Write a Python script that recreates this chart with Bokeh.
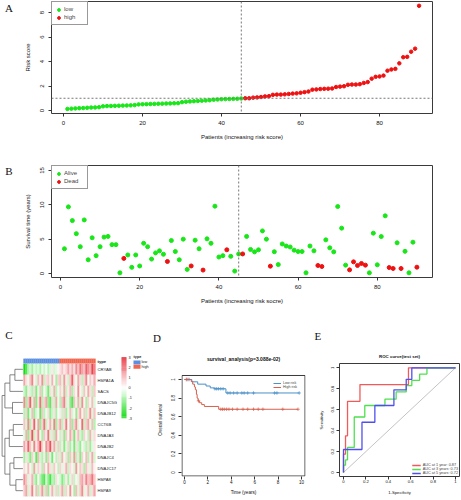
import numpy as np
from bokeh.plotting import figure
from bokeh.layouts import column, row
from bokeh.models import (Range1d, FixedTicker, Span, Legend, LegendItem, Title,
                          ColumnDataSource, LinearColorMapper)
from bokeh.transform import transform
from bokeh.embed import file_html
from bokeh.resources import INLINE
from bokeh.core.properties import value

SANS = "Liberation Sans"
SERIF = "Liberation Serif"

# ---------------- data: panel A (risk score) ----------------
risk_low = [0.13, 0.15, 0.17, 0.19, 0.20, 0.22, 0.24, 0.25, 0.27, 0.34, 0.36, 0.37, 0.38, 0.39, 0.40,
            0.41, 0.42, 0.44, 0.50, 0.51, 0.52, 0.53, 0.54, 0.55, 0.56, 0.57, 0.58, 0.59, 0.60, 0.68,
            0.72, 0.74, 0.76, 0.78, 0.80, 0.82, 0.84, 0.88, 0.90, 0.92, 0.93, 0.94, 0.95, 0.96, 0.98]
risk_high = [1.00, 1.00, 1.05, 1.07, 1.10, 1.15, 1.17, 1.28, 1.30, 1.30, 1.32, 1.35, 1.38, 1.40, 1.45,
             1.50, 1.55, 1.70, 1.72, 1.75, 1.77, 1.78, 1.80, 1.92, 1.95, 1.98, 2.10, 2.12, 2.12, 2.15,
             2.25, 2.32, 2.60, 2.75, 2.78, 2.85, 3.25, 3.35, 3.40, 3.85, 4.35, 4.38, 4.80, 5.05, 8.55]
risk_cutoff = 1.0
n_low = len(risk_low)

# ---------------- data: panel B (survival time / status) ----------------
surv_time = [3.6, 9.7, 7.7, 5.8, 3.9, 7.8, 2.0, 5.2, 2.6, 3.9,
             5.3, 5.4, 4.2, 4.2, 0.1, 2.2, 2.7, 0.9, 2.7, 1.1,
             4.4, 3.9, 2.1, 3.0, 3.3, 2.8, 1.75, 4.8, 3.2, 2.0,
             5.0, 0.6, 1.1, 4.85, 3.6, 0.5, 5.05, 4.4, 9.8, 2.4,
             2.6, 3.45, 2.5, 0.35, 2.85, 2.85, 5.4, 3.5, 3.15, 3.45,
             6.2, 5.0, 1.07, 3.17, 1.3, 4.3, 4.0, 3.86, 3.4, 3.2,
             3.2, 0.1, 4.0, 3.3, 1.17, 1.02, 4.9, 3.74, 3.15, 9.75,
             6.6, 1.22, 0.53, 1.7, 1.17, 1.46, 1.22, 0.1, 5.87, 1.27,
             5.38, 8.4, 0.87, 0.73, 4.47, 0.73, 3.23, 0.1, 4.56, 0.92]
dead_patients = [16, 27, 33, 36, 42, 46, 53, 65, 66, 73, 74, 75, 76, 77, 83, 84, 86, 90]

# ---------------- data: panel C (heatmap) ----------------
genes = ["CRYAB", "HSPA1A", "SACS", "DNAJC5G", "DNAJB12", "CCT6B",
         "DNAJA3", "DNAJB2", "DNAJC4", "DNAJC17", "HSPA8", "HSPA9"]
n_type_low = 18
n_type_high = 18
expr_CRYAB = [-3.0, -2.2, -1.0, -0.6, -1.2, -0.4, -0.8, -0.5, -1.0, -0.3, -0.7, -0.2, -0.9, -0.5, 0.3, -0.6, -0.4, 0.2,
              0.4, 0.8, 0.3, 0.6, 1.2, 0.5, 1.0, 0.4, 1.5, 0.8, 1.8, 1.2, 0.9, 2.0, 1.4, 1.0, 2.4, 1.6]
expr_HSPA1A = [1.2, 0.4, -0.3, 0.8, 1.6, 0.2, -0.6, 0.9, 0.3, 1.4, -0.8, 0.5, 0.7, -0.4, 1.0, 0.2, -1.2, 0.6,
               0.9, -0.5, 1.3, 0.3, -0.7, 0.8, 2.0, 0.4, -0.3, 1.1, 0.5, -0.9, 0.6, 1.5, -0.2, 0.7, 0.3, 1.0]
expr_SACS = [-0.8, -1.4, 0.3, -0.6, -1.0, 0.5, -1.6, -0.4, 0.8, -1.2, 0.2, -0.7, -1.8, 0.4, -0.5, 1.0, -0.9, -0.3,
             0.6, -0.4, 1.2, -0.8, 0.3, 0.9, -1.1, 0.5, -0.2, 1.4, 0.2, -0.6, 0.8, -0.3, 1.1, 0.4, -0.9, 0.7]
expr_DNAJC5G = [1.5, -1.2, 0.8, 2.0, -0.5, 1.0, -1.6, 0.4, 1.8, -0.9, 0.6, 1.2, -1.4, -2.0, 0.5, -0.8, 1.1, -0.3,
                -1.0, 0.9, 1.6, -0.6, 0.3, -1.5, -2.2, 0.8, -0.4, 1.0, -0.7, 1.4, 0.2, -1.1, 0.6, -0.3, 0.9, -0.5]
expr_DNAJB12 = [-1.0, 0.6, -1.8, -0.4, 0.9, -1.3, -0.6, 0.2, -2.0, 0.7, -0.9, -0.3, 0.5, -1.5, -0.7, 0.4, -1.1, -0.2,
                0.3, -0.8, 0.6, -1.2, -0.4, 0.9, -0.6, 0.2, -1.4, 0.5, 1.2, -0.3, 0.7, -0.9, 0.4, 1.5, -0.5, 0.8]
expr_CCT6B = [0.8, -0.6, 1.5, -1.0, 0.4, 2.0, -0.3, 1.2, -1.4, 0.6, 1.8, -0.8, 0.3, 1.0, -0.5, 1.6, -1.2, 0.5,
              1.1, -0.9, 0.4, 1.7, -0.2, 0.9, -1.3, 0.6, 1.4, -0.5, 0.2, 1.9, -0.8, 0.7, 1.2, -0.4, 0.9, -1.0]
expr_DNAJA3 = [-0.5, 1.0, -1.4, 0.6, 2.2, -0.8, 0.4, 1.5, -0.3, -1.2, 0.8, 0.3, 1.8, -0.6, 0.5, -1.0, 1.2, 0.2,
               -0.8, 0.4, -1.5, 0.7, -0.3, 1.1, 0.5, -1.8, 0.3, 0.9, -0.6, -1.2, 0.6, 0.2, -0.9, 1.0, -0.4, 0.5]
expr_DNAJB2 = [1.2, 0.5, 2.0, 0.8, -0.4, 1.6, 0.3, 1.0, 2.4, 0.6, -0.3, 1.4, 0.9, 2.2, 0.4, 1.1, -0.6, 0.7,
               -0.9, 0.3, -1.6, -0.5, 0.6, -1.2, -0.3, -1.8, 0.4, -0.8, -1.4, 0.2, -0.6, -1.0, 0.5, -1.3, -0.4, 0.3]
expr_DNAJC4 = [-1.2, 0.4, -0.8, -1.6, 0.6, -0.4, -2.0, 0.9, -0.6, -1.0, 0.3, -1.4, 0.7, -0.5, -1.8, 0.2, -0.9, 0.5,
               -0.7, 1.0, -0.3, 0.5, -1.2, 0.8, -0.5, 1.3, -0.9, 0.4, -1.6, 0.6, -0.2, 0.9, -1.0, 0.3, 1.1, -0.6]
expr_DNAJC17 = [0.5, -0.3, 0.9, 0.2, -0.7, 1.2, -0.4, 0.6, 0.3, -1.0, 0.8, -0.2, 1.1, 0.4, -0.6, 0.7, 0.2, -0.9,
                0.6, -0.4, 0.3, 1.0, -0.8, 0.5, 0.2, -0.6, 1.3, -0.3, 0.7, 0.4, -1.1, 0.8, 0.3, -0.5, 0.9, 0.2]
expr_HSPA8 = [1.4, 0.8, -0.5, 0.3, 1.0, -0.8, -1.4, 0.2, -1.0, -1.8, -2.2, -0.6, -1.5, -2.4, -0.9, -1.2, 0.4, -0.3,
              -0.6, -1.6, -0.9, 0.3, -1.2, -0.4, 0.6, -0.8, 0.2, -0.5, 0.9, 1.2, 0.5, 1.6, 0.8, 1.0, 1.8, 0.7]
expr_HSPA9 = [0.7, 1.2, -0.6, 0.4, 1.6, -0.3, 0.9, -1.0, 0.5, 1.3, -0.7, 0.8, -1.4, 0.3, 1.0, -0.5, 0.6, -0.9,
              0.4, 1.1, -0.8, 0.6, -0.3, 1.4, 0.2, -1.2, 0.9, -0.5, 0.7, 1.5, -0.4, 0.3, 1.0, -0.7, 0.5, 1.2]
# row dendrogram: (child a, child b, merge height); leaves 0..11, new nodes 12..22
dendro_merges = [(0, 1, 4.0), (12, 2, 6.5), (3, 4, 5.2), (13, 14, 9.0), (5, 6, 4.8), (16, 7, 6.8),
                 (8, 9, 4.5), (10, 11, 3.5), (18, 19, 6.5), (17, 20, 9.0), (15, 21, 10.4)]
colorbar_ticks = [3, 2, 1, 0, -1, -2, -3]

# ---------------- data: panel D (Kaplan-Meier) ----------------
km_pvalue = 3.088e-02
km_low_time = [0, 0.62, 1.13, 1.84, 2.2, 2.55, 3.54, 9.8]
km_low_surv = [1.0, 0.975, 0.95, 0.93, 0.91, 0.90, 0.855, 0.855]
km_high_time = [0, 0.57, 0.7, 0.85, 0.93, 1.02, 1.08, 1.16, 1.27, 1.47, 1.7, 2.92, 9.7]
km_high_surv = [1.0, 0.98, 0.95, 0.92, 0.89, 0.84, 0.80, 0.77, 0.75, 0.73, 0.71, 0.68, 0.68]
km_low_censor = [0.2, 0.4, 2.6, 2.75, 2.9, 3.1, 3.3, 3.7, 3.9, 4.2, 4.5, 4.9, 5.1, 5.4, 5.9, 7.7, 7.9, 9.8]
km_high_censor = [0.15, 0.3, 1.2, 3.1, 3.25, 3.4, 3.6, 3.8, 4.1, 4.5, 5.0, 5.4, 5.9, 6.3, 6.7, 8.4, 9.7]

# ---------------- data: panel E (ROC) ----------------
roc_years = [1, 3, 5]
roc_auc = [0.87, 0.73, 0.72]
roc1_fpr = [0, 0.018, 0.036, 0.147, 0.58]
roc1_tpr = [0.175, 0.35, 0.68, 0.84, 1.0]
roc3_fpr = [0, 0.018, 0.036, 0.096, 0.19, 0.37, 0.47, 0.56, 0.61, 0.68, 0.745]
roc3_tpr = [0.07, 0.12, 0.24, 0.53, 0.64, 0.70, 0.77, 0.83, 0.88, 0.94, 1.0]
roc5_fpr = [0, 0.165, 0.28, 0.45, 0.56, 0.61]
roc5_tpr = [0.22, 0.48, 0.64, 0.79, 0.89, 1.0]

# ---------------- styling helpers ----------------
GREEN = "#19E619"
RED = "#EE1111"


def base_fig(fw, fh, bl, br, bt, bb, xr, yr):
    p = figure(frame_width=fw, frame_height=fh, min_border_left=bl, min_border_right=br,
               min_border_top=bt, min_border_bottom=bb, x_range=Range1d(*xr), y_range=Range1d(*yr),
               output_backend="svg", toolbar_location=None, title=None)
    p.xgrid.visible = False
    p.ygrid.visible = False
    p.outline_line_color = "#3a3a3a"
    p.outline_line_width = 1
    p.background_fill_color = "white"
    p.border_fill_color = "white"
    return p


def style_axes(p, fs, xt, yt, xlab, ylab, tick_sd, xl_sd, yl_sd, xtick_sd=None):
    p.xaxis.ticker = FixedTicker(ticks=xt)
    p.yaxis.ticker = FixedTicker(ticks=yt)
    p.xaxis.axis_label = xlab
    p.yaxis.axis_label = ylab
    for ax in p.axis:
        ax.axis_line_color = None
        ax.major_tick_out = 3
        ax.major_tick_in = 0
        ax.minor_tick_line_color = None
        ax.major_tick_line_color = "#333333"
        ax.major_label_text_font = SANS
        ax.major_label_text_font_size = fs
        ax.major_label_text_color = "#111111"
        ax.axis_label_text_font = SANS
        ax.axis_label_text_font_size = fs
        ax.axis_label_text_font_style = "normal"
        ax.axis_label_text_color = "#111111"
        ax.major_label_standoff = tick_sd
    if xtick_sd is not None:
        p.xaxis.major_label_standoff = xtick_sd
    p.xaxis.axis_label_standoff = xl_sd
    p.yaxis.axis_label_standoff = yl_sd
    p.yaxis.major_label_orientation = "vertical"


def letter_strip(text, fh, bt, bb, text_y):
    # narrow axis-less strip beside a panel; its frame is aligned with the panel's frame
    q = figure(frame_width=17, frame_height=fh, min_border_left=0, min_border_right=0,
               min_border_top=bt, min_border_bottom=bb, x_range=Range1d(0, 17), y_range=Range1d(fh, 0),
               x_axis_type=None, y_axis_type=None, output_backend="svg", toolbar_location=None, title=None)
    q.grid.visible = False
    q.outline_line_color = None
    q.text([8.5], [text_y], text=[text], text_font=value(SERIF), text_font_size="11px",
           text_font_style="normal", text_align="center", text_baseline="middle", text_color="#111111")
    return q


def small_legend(p, items, loc, fs, gw, gh, lh, pad, border=None, margin=0):
    lg = Legend(items=items, location=loc, label_text_font=SANS, label_text_font_size=fs,
                glyph_width=gw, glyph_height=gh, label_height=lh, spacing=0, padding=pad,
                margin=margin, label_standoff=2, background_fill_color="white",
                background_fill_alpha=1.0 if border else 0.0,
                border_line_color=border, border_line_width=1)
    p.add_layout(lg)
    return lg


# ---------------- Panel A (page y 0..150, frame x 51..432, y 1..113) ----------------
A_xr = (-3.04, 93.4)
A_yr = (-0.245, 8.9)
pA = base_fig(381, 112, 34, 29, 1, 37, A_xr, A_yr)
style_axes(pA, "6px", [0, 20, 40, 60, 80], [0, 2, 4, 6, 8],
           "Patients (increasing risk score)", "Risk score", 4, 6, 7)
xa_low = list(range(1, n_low + 1))
xa_high = list(range(n_low + 1, n_low + len(risk_high) + 1))
rA_low = pA.scatter(xa_low, risk_low, size=3.5, color=GREEN)
rA_high = pA.scatter(xa_high, risk_high, size=3.5, color=RED)
pA.add_layout(Span(location=n_low, dimension="height", line_color="#777777", line_dash="2 2", line_width=1))
pA.add_layout(Span(location=risk_cutoff, dimension="width", line_color="#777777", line_dash="2 2", line_width=1))
small_legend(pA, [LegendItem(label="low", renderers=[rA_low]), LegendItem(label="high", renderers=[rA_high])],
             "top_left", "6px", 7, 7, 8, 3, border="#333333")
sA = letter_strip("A", 112, 1, 37, 6.5)

# ---------------- Panel B (page y 150..310, frame x 51..432, y 165..277) ----------------
B_xr = (-2.27, 93.94)
B_yr = (-0.58, 15.72)
pB = base_fig(381, 112, 34, 29, 15, 33, B_xr, B_yr)
style_axes(pB, "6px", [0, 20, 40, 60, 80], [0, 5, 10, 15],
           "Patients (increasing risk socre)", "Survival time (years)", 4, 6, 7)
patients = np.arange(1, len(surv_time) + 1)
is_dead = np.isin(patients, dead_patients)
st = np.array(surv_time)
rB_alive = pB.scatter(patients[~is_dead], st[~is_dead], size=4, color=GREEN)
rB_dead = pB.scatter(patients[is_dead], st[is_dead], size=4, color=RED)
pB.add_layout(Span(location=n_low, dimension="height", line_color="#777777", line_dash="2 2", line_width=1))
small_legend(pB, [LegendItem(label="Alive", renderers=[rB_alive]), LegendItem(label="Dead", renderers=[rB_dead])],
             "top_left", "6px", 7, 7, 8, 3, border="#333333")
sB = letter_strip("B", 112, 15, 33, 5.5)

# ---------------- Panel C (heatmap; page x 0..150, y 310..500) ----------------
expr_rows = [expr_CRYAB, expr_HSPA1A, expr_SACS, expr_DNAJC5G, expr_DNAJB12, expr_CCT6B,
             expr_DNAJA3, expr_DNAJB2, expr_DNAJC4, expr_DNAJC17, expr_HSPA8, expr_HSPA9]
n_cols = n_type_low + n_type_high
# x: one unit per sample column (2px), y: one unit per gene row (~11px), rows grow downward
pC = figure(frame_width=150, frame_height=190, min_border=0,
            x_range=Range1d(-11.5, 63.5), y_range=Range1d(12.39, -4.83),
            x_axis_type=None, y_axis_type=None, output_backend="svg",
            toolbar_location=None, title=None)
pC.grid.visible = False
pC.outline_line_color = None
pC.background_fill_color = "white"


def lerp_hex(c1, c2, t):
    return "#%02x%02x%02x" % tuple(int(round(a + (b - a) * t)) for a, b in zip(c1, c2))


c_green, c_white, c_red = (25, 220, 25), (255, 255, 255), (228, 24, 34)
palette = [lerp_hex(c_green, c_white, i / 50) for i in range(50)] + \
          [lerp_hex(c_white, c_red, i / 50) for i in range(51)]
mapper = LinearColorMapper(palette=palette, low=-3, high=3)

hx, hy, hv = [], [], []
for gi, vals in enumerate(expr_rows):
    for ci, v in enumerate(vals):
        hx.append(ci + 0.5)
        hy.append(gi + 0.5)
        hv.append(v)
hsrc = ColumnDataSource(dict(x=hx, y=hy, v=hv))
pC.rect("x", "y", width=1, height=1, source=hsrc, fill_color=transform("v", mapper),
        line_color=transform("v", mapper), line_width=0.3)

type_colors = {"low": "#5B8FE0", "high": "#F0674F"}
col_types = ["low"] * n_type_low + ["high"] * n_type_high
pC.rect([i + 0.5 for i in range(n_cols)], [-0.25] * n_cols, width=1, height=0.4,
        fill_color=[type_colors[t] for t in col_types], line_color=[type_colors[t] for t in col_types],
        line_width=0.3)

pC.text([n_cols + 1] * len(genes), [i + 0.5 for i in range(len(genes))], text=genes,
        text_font=value(SANS), text_font_size="4.2px", text_baseline="middle", text_align="left",
        text_color="#222222")
pC.text([n_cols + 1], [-0.25], text=["type"], text_font=value(SANS), text_font_size="4.2px",
        text_font_style="bold", text_baseline="middle", text_align="left", text_color="#222222")

# dendrogram (root on the left)
node_y = {i: i + 0.5 for i in range(len(genes))}
node_h = {i: 0.0 for i in range(len(genes))}
seg_x0, seg_y0, seg_x1, seg_y1 = [], [], [], []
for k, (a, b, h) in enumerate(dendro_merges):
    nid = len(genes) + k
    xh = -0.3 - h
    for ch in (a, b):
        seg_x0.append(-0.3 - node_h[ch])
        seg_y0.append(node_y[ch])
        seg_x1.append(xh)
        seg_y1.append(node_y[ch])
    seg_x0.append(xh)
    seg_y0.append(node_y[a])
    seg_x1.append(xh)
    seg_y1.append(node_y[b])
    node_y[nid] = (node_y[a] + node_y[b]) / 2
    node_h[nid] = h
pC.segment(seg_x0, seg_y0, seg_x1, seg_y1, line_color="#555555", line_width=0.7)

# colour key
cb_n = 60
cb_top, cb_bot = -0.6, 4.93
cb_step = (cb_bot - cb_top) / cb_n
cb_vals = [3 - 6 * (i + 0.5) / cb_n for i in range(cb_n)]
pC.rect([50.25] * cb_n, [cb_top + (i + 0.5) * cb_step for i in range(cb_n)], width=2.5, height=cb_step * 1.05,
        fill_color=[palette[int(round((v + 3) / 6 * 100))] for v in cb_vals], line_color=None)
pC.text([52.5] * len(colorbar_ticks),
        [cb_top + (3 - t) / 6 * (cb_bot - cb_top) for t in colorbar_ticks],
        text=[str(t) for t in colorbar_ticks], text_font=value(SANS), text_font_size="3.8px",
        text_baseline="middle", text_align="left", text_color="#222222")
# type key
pC.text([55], [-0.6], text=["type"], text_font=value(SANS), text_font_size="3.8px",
        text_font_style="bold", text_baseline="middle", text_align="left", text_color="#222222")
pC.rect([56.75, 56.75], [-0.12, 0.26], width=3.5, height=0.36,
        fill_color=[type_colors["low"], type_colors["high"]], line_color=None)
pC.text([59, 59], [-0.12, 0.26], text=["low", "high"], text_font=value(SANS), text_font_size="3.8px",
        text_baseline="middle", text_align="left", text_color="#222222")
pC.text([-7.25], [-2.57], text=["C"], text_font=value(SERIF), text_font_size="11px",
        text_baseline="middle", text_align="center", text_color="#111111")

# ---------------- Panel D (KM; page x 150..310, frame x 181..305, y 363..476) ----------------
D_xr = (-0.256, 10.34)
D_yr = (-0.043, 1.172)
D_box_top = 1.043
pD = base_fig(124, 113, 31, 5, 53, 24, D_xr, D_yr)
pD.outline_line_color = None
style_axes(pD, "4.6px", [0, 2, 4, 6, 8, 10], [0, 0.2, 0.4, 0.6, 0.8, 1.0],
           "Time (years)", "Overall survival", 3, 3, 6, xtick_sd=0)
dx_in = 0.5 * (D_xr[1] - D_xr[0]) / 124
dy_in = 0.5 * (D_yr[1] - D_yr[0]) / 113
pD.quad(left=D_xr[0] + dx_in, right=D_xr[1] - dx_in, bottom=D_yr[0] + dy_in, top=D_box_top,
        fill_color=None, line_color="#3a3a3a", line_width=1)
KM_BLUE = "#4A90C9"
KM_RED = "#D6604D"
rD_low = pD.step(km_low_time, km_low_surv, mode="after", line_color=KM_BLUE, line_width=1)
rD_high = pD.step(km_high_time, km_high_surv, mode="after", line_color=KM_RED, line_width=1)


def surv_at(times, surv, t):
    idx = np.searchsorted(np.array(times), np.array(t), side="right") - 1
    return list(np.array(surv)[idx])


pD.scatter(km_low_censor, surv_at(km_low_time, km_low_surv, km_low_censor), marker="cross",
           size=3.5, line_color=KM_BLUE, line_width=0.7)
pD.scatter(km_high_censor, surv_at(km_high_time, km_high_surv, km_high_censor), marker="cross",
           size=3.5, line_color=KM_RED, line_width=0.7)
small_legend(pD, [LegendItem(label="Low risk", renderers=[rD_low]),
                  LegendItem(label="High risk", renderers=[rD_high])],
             (92, 87), "3.6px", 8, 4, 4, 1)
pD.add_layout(Title(text="survival_analysis(p=%s)" % ("%.3e" % km_pvalue), align="center",
                    text_font=SANS, text_font_size="5px", text_font_style="bold",
                    text_color="#111111", standoff=4, offset=-3), "above")
pD.add_layout(Title(text="D", align="left", text_font=SERIF, text_font_size="11px",
                    text_font_style="normal", text_color="#111111", standoff=15, offset=-28.5), "above")

# ---------------- Panel E (ROC; page x 310..461, frame x 339..459, y 363..476) ----------------
E_xr = (-0.0357, 1.0357)
E_yr = (-0.038, 1.041)
pE = base_fig(120, 113, 29, 2, 53, 24, E_xr, E_yr)
style_axes(pE, "4.2px", [0, 0.2, 0.4, 0.6, 0.8, 1.0], [0, 0.2, 0.4, 0.6, 0.8, 1.0],
           "1-Specificity", "Sensitivity", 2, 4, 5, xtick_sd=0)
pE.line([0, 1], [0, 1], line_color="#9a9a9a", line_width=0.6)


def roc_path(fpr, tpr):
    xs, ys = [0.0], [0.0]
    for f, t in zip(fpr, tpr):
        xs += [f, f]
        ys += [ys[-1], t]
    xs.append(1.0)
    ys.append(ys[-1])
    return xs, ys


roc_colors = ["#F25A5A", "#4FE04F", "#4F4FF0"]
roc_sets = [(roc1_fpr, roc1_tpr), (roc3_fpr, roc3_tpr), (roc5_fpr, roc5_tpr)]
roc_items = []
for (f, t), col, yr_, auc in zip(roc_sets, roc_colors, roc_years, roc_auc):
    xs, ys = roc_path(f, t)
    r = pE.line(xs, ys, line_color=col, line_width=1.3)
    unit = "year" if yr_ == 1 else "years"
    roc_items.append(LegendItem(label="AUC at %d %s: %.2f" % (yr_, unit, auc), renderers=[r]))
small_legend(pE, roc_items, "bottom_right", "3.8px", 9, 4, 4, 1, margin=1)
pE.add_layout(Title(text="ROC curve(test set)", align="center", text_font=SANS,
                    text_font_size="4.4px", text_font_style="bold", text_color="#111111",
                    standoff=10), "above")
pE.add_layout(Title(text="E", align="left", text_font=SERIF, text_font_size="11px",
                    text_font_style="normal", text_color="#111111", standoff=9, offset=-25), "above")

layout = column(row(sA, pA, spacing=0), row(sB, pB, spacing=0),
                row(pC, row(pD, pE, spacing=0), spacing=0), spacing=0)
open("out.html", "w").write(file_html(layout, INLINE))
